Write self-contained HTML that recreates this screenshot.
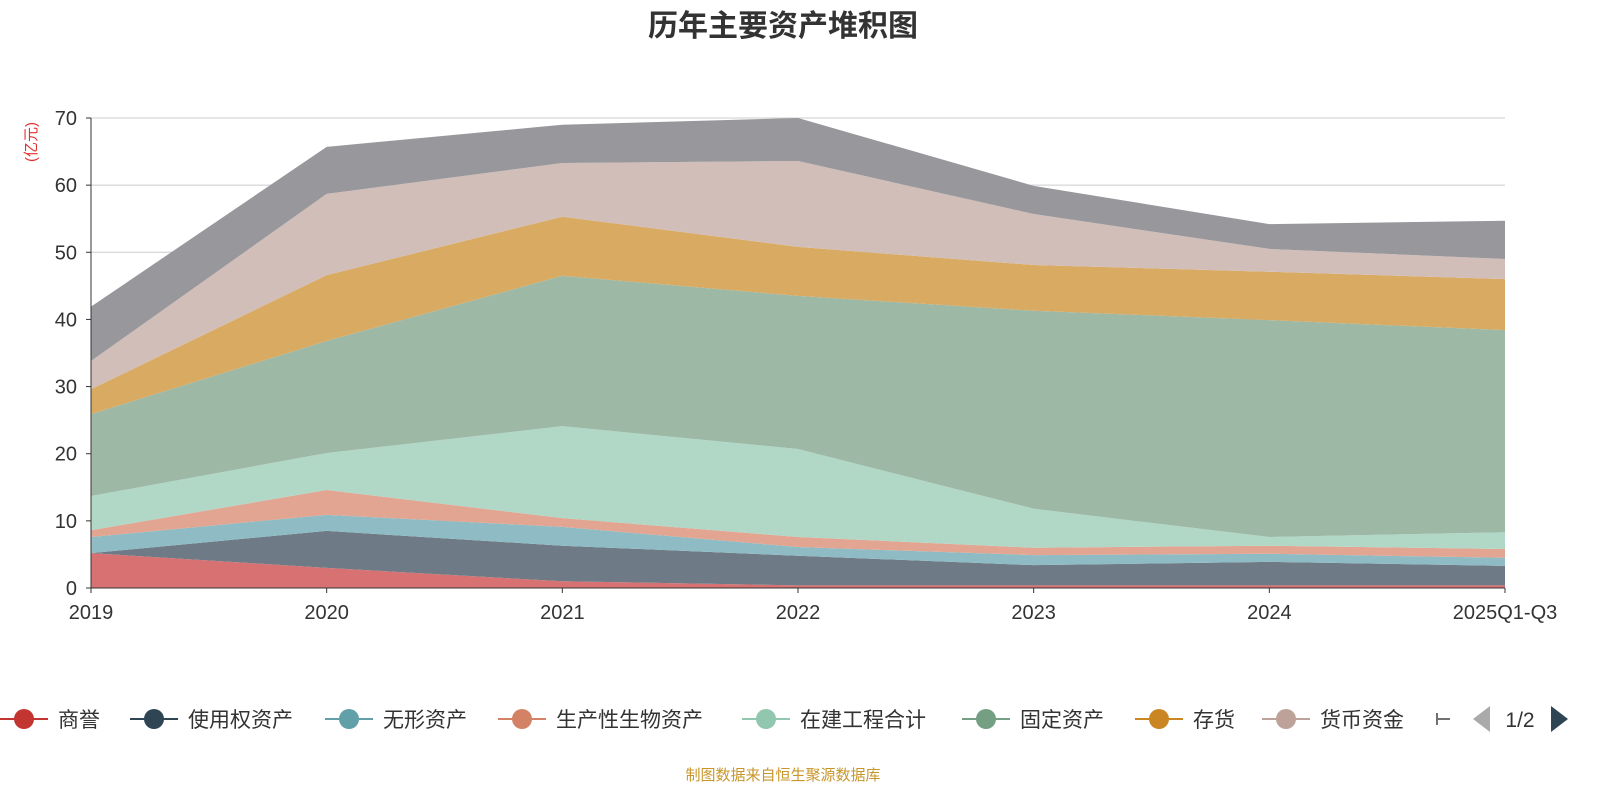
<!DOCTYPE html>
<html><head><meta charset="utf-8"><style>
body{margin:0;background:#fff;width:1600px;height:800px;overflow:hidden;font-family:"Liberation Sans","Noto Sans CJK SC",sans-serif}
</style></head><body>
<svg width="1600" height="800" id="chart" font-family="Liberation Sans, Noto Sans CJK SC, sans-serif">
<text x="783" y="36" text-anchor="middle" font-size="30" font-weight="bold" fill="#333">历年主要资产堆积图</text>
<text transform="translate(36,142) rotate(-90)" text-anchor="middle" font-size="15" fill="#e03030">(亿元)</text>
<g id="grid"></g><g id="areas"></g><g id="axes"></g><g id="legend"></g>
<text x="783" y="780" text-anchor="middle" font-size="15" fill="#c8962a">制图数据来自恒生聚源数据库</text>
</svg>
<script>
const categories=["2019","2020","2021","2022","2023","2024","2025Q1-Q3"];
const seriesNames=["商誉","使用权资产","无形资产","生产性生物资产","在建工程合计","固定资产","存货","货币资金","其他"];
const goodwill=[5.2,3.0,1.0,0.4,0.4,0.4,0.4];
const rightOfUse=[0,5.5,5.3,4.4,3.0,3.5,2.9];
const intangible=[2.4,2.4,2.8,1.3,1.5,1.2,1.2];
const bioAssets=[1.0,3.7,1.3,1.5,1.1,1.2,1.3];
const construction=[5.1,5.5,13.7,13.1,5.8,1.3,2.5];
const fixedAssets=[12.2,16.7,22.4,22.8,29.5,32.3,30.1];
const inventory=[3.7,9.8,8.8,7.3,6.8,7.2,7.6];
const cash=[4.2,12.1,8.0,12.8,7.6,3.4,3.0];
const others=[8.1,7.0,5.7,6.4,4.2,3.7,5.7];
const yTicks=[0,10,20,30,40,50,60,70];
const series=[goodwill,rightOfUse,intangible,bioAssets,construction,fixedAssets,inventory,cash,others];
const fills=["#d87272","#6e7b87","#8fbcc4","#e2a592","#b1d7c6","#9db9a6","#d9aa62","#d1beb9","#98989c"];
const lineCols=["#c23531","#2f4554","#61a0a8","#d48265","#91c7ae","#749f83","#ca8622","#bda29a","#6e7074"];
const NS="http://www.w3.org/2000/svg";
const X0=91,X1=1505,Y0=588,Y1=118,YMAX=70;
const xs=i=>X0+(X1-X0)*i/(categories.length-1);
const ys=v=>Y0-(Y0-Y1)*v/YMAX;
function mk(t,a,p){const e=document.createElementNS(NS,t);for(const k in a)e.setAttribute(k,a[k]);p.appendChild(e);return e;}
const grid=document.getElementById('grid'),areas=document.getElementById('areas'),axes=document.getElementById('axes'),leg=document.getElementById('legend');
yTicks.forEach(t=>{
 const l=mk('line',{x1:X0,x2:X1,y1:ys(t),y2:ys(t),stroke:t?"#ccc":"#333","stroke-width":1},t?grid:axes);
 
 
 mk('line',{x1:X0-5,x2:X0,y1:ys(t),y2:ys(t),stroke:"#333"},axes);
 const tx=mk('text',{x:X0-14,y:ys(t)+7,"text-anchor":"end","font-size":20,fill:"#333"},axes);tx.textContent=t;
 
 
});
mk('line',{x1:X0,x2:X0,y1:Y1,y2:Y0,stroke:"#333"},axes);
categories.forEach((c,i)=>{
 mk('line',{x1:xs(i),x2:xs(i),y1:Y0,y2:Y0+5,stroke:"#333"},axes);
 const tx=mk('text',{x:xs(i),y:Y0+31,"text-anchor":"middle","font-size":20,fill:"#333"},axes);tx.textContent=c;
 
 
});
let base=categories.map(()=>0);
series.forEach((s,k)=>{
 const top=base.map((b,i)=>b+s[i]);
 let d="M"+top.map((v,i)=>xs(i)+","+ys(v)).join("L");
 for(let i=categories.length-1;i>=0;i--)d+="L"+xs(i)+","+ys(base[i]);
 const p=mk('path',{d:d+"Z",fill:fills[k]},areas);
 
 
 base=top;
});
const legX=[0,130,325,498,742,962,1135,1262,1435];
seriesNames.slice(0,8).forEach((n,k)=>{
 const g=mk('g',{},leg);
 
 
 const x=legX[k];
 mk('line',{x1:x,x2:x+48,y1:719,y2:719,stroke:lineCols[k],"stroke-width":2},g);
 mk('circle',{cx:x+24,cy:719,r:10,fill:lineCols[k]},g);
 const t=mk('text',{x:x+58,y:727,"font-size":21,fill:"#333"},g);t.textContent=n;
});
mk('line',{x1:1437,x2:1450,y1:719,y2:719,stroke:"#6e7074","stroke-width":2},leg);
mk('line',{x1:1437,x2:1437,y1:713,y2:725,stroke:"#6e7074","stroke-width":2},leg);
const pl=mk('path',{d:"M1490,706L1490,732L1473,719Z",fill:"#aaa"},leg);


const pt=mk('text',{x:1520,y:727,"text-anchor":"middle","font-size":21,fill:"#333"},leg);pt.textContent="1/2";


const pn=mk('path',{d:"M1551,706L1551,732L1568,719Z",fill:"#2f4554"},leg);


</script>
</body></html>
